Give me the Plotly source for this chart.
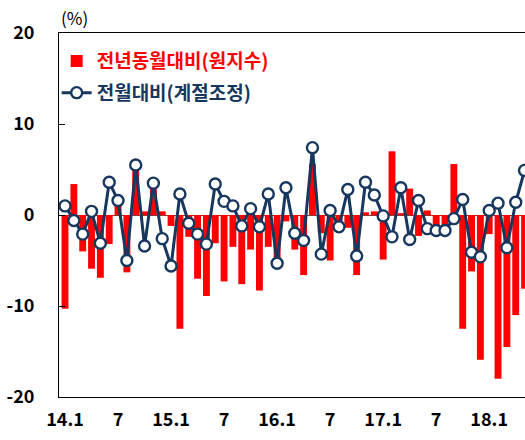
import plotly.graph_objects as go

months = [f"{y}.{m}" for y in range(14, 19) for m in range(1, 13)][:53]

yoy_original = [-10.3, 3.4, -4.0, -5.9, -6.9, -3.2, 1.2, -6.3, 5.0, 0.4, 3.0, 0.4,
                -1.2, -12.5, -2.4, -7.0, -8.9, -3.1, -7.3, -3.5, -7.6, -3.8, -8.3, -3.5,
                -4.8, -0.7, -3.8, -6.6, 5.6, -2.0, -5.0, -1.0, -1.4, -6.6, 0.3, 0.4,
                -4.9, 7.0, 0.2, 2.9, -2.3, 0.5, -1.1, -1.1, 5.6, -12.5, -6.2, -15.9,
                -2.1, -18.0, -14.5, -11.0, -8.1]

mom_sa = [1.0, -0.6, -2.1, 0.4, -3.1, 3.6, 1.6, -5.0, 5.5, -3.4, 3.5, -2.6,
          -5.6, 2.3, -0.9, -2.1, -3.2, 3.4, 1.5, 1.0, -1.2, 0.7, -1.3, 2.3,
          -5.3, 3.0, -2.0, -2.8, 7.4, -4.3, 0.5, -1.3, 2.8, -4.5, 3.6, 2.2,
          -0.1, -2.4, 3.0, -2.7, 1.6, -1.5, -1.7, -1.7, -0.4, 1.7, -4.1, -4.6,
          0.5, 1.3, -3.6, 1.4, 4.9]

tick_vals = ["14.1", "14.7", "15.1", "15.7", "16.1", "16.7", "17.1", "17.7", "18.1"]
tick_text = ["14.1", "7", "15.1", "7", "16.1", "7", "17.1", "7", "18.1"]

y_tick_vals = [-20, -10, 0, 10, 20]
y_tick_text = ["-20", "-10", "0", "10", "20"]

name_bar = "전년동월대비(원지수)"
name_line = "전월대비(계절조정)"

RED = "#FF0000"
NAVY = "#17375E"
FONT = "Noto Sans CJK KR"

fig = go.Figure()
fig.add_trace(go.Bar(
    x=months, y=yoy_original,
    name=f"<span style='color:{RED}'>{name_bar}</span>",
    marker=dict(color=RED, line=dict(width=0)),
    legendgroup="a",
))
fig.add_trace(go.Scatter(
    x=months, y=mom_sa, mode="lines+markers",
    name=f"<span style='color:{NAVY}'>{name_line}</span>",
    line=dict(color=NAVY, width=3),
    marker=dict(symbol="circle", size=11, color="white", line=dict(color=NAVY, width=2.4)),
    legendgroup="b",
    cliponaxis=True,
))

fig.update_layout(
    width=525, height=440,
    margin=dict(l=59, r=0, t=33, b=43, autoexpand=False),
    paper_bgcolor="white", plot_bgcolor="white",
    bargap=0.22,
    font=dict(family=FONT, size=18, color="black"),
    showlegend=True,
    hovermode=False,
    legend=dict(
        x=-0.005, y=0.975, xanchor="left", yanchor="top",
        bgcolor="rgba(0,0,0,0)", borderwidth=0,
        font=dict(family=FONT, size=19, weight="bold"),
        tracegroupgap=4, itemwidth=30,
    ),
    xaxis=dict(
        type="category", range=[-0.68, 52.05], automargin=False,
        tickmode="array", tickvals=tick_vals, ticktext=tick_text,
        showline=True, linecolor="black", linewidth=1, mirror=True,
        ticks="", showgrid=False, zeroline=False,
        tickfont=dict(family=FONT, size=18, color="black", weight="bold"),
        ticklabelstandoff=6,
    ),
    yaxis=dict(
        range=[-20, 20], automargin=False,
        tickmode="array", tickvals=y_tick_vals, ticktext=y_tick_text,
        showline=True, linecolor="black", linewidth=1, mirror=False,
        ticks="inside", ticklen=6, tickcolor="black",
        showgrid=False, zeroline=True, zerolinecolor="#993333", zerolinewidth=1,
        tickfont=dict(family=FONT, size=18, color="black", weight="bold"),
        ticklabelstandoff=20,
    ),
    annotations=[dict(
        text="(%)", xref="paper", yref="paper", x=0.0, y=1.0,
        xanchor="left", yanchor="bottom", showarrow=False, yshift=1,
        font=dict(family=FONT, size=17, color="black"),
    )],
)

fig.write_html(
    "out.html",
    config={"displayModeBar": False, "staticPlot": True},
    post_script="document.body.style.margin='0';document.body.style.overflow='hidden';",
)
